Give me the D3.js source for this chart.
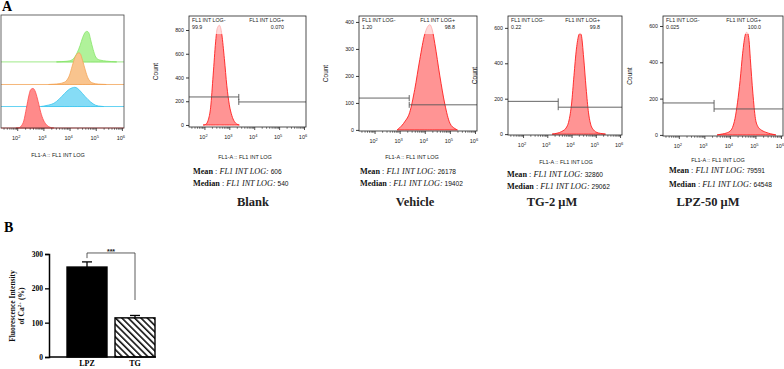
<!DOCTYPE html>
<html>
<head>
<meta charset="utf-8">
<script src="https://cdn.jsdelivr.net/npm/d3@7"></script>
<style>
  body { margin: 0; background: #fff; }
  svg { display: block; font-family: Arial, "Liberation Sans", sans-serif; }
</style>
</head>
<body>
<div id="chart"></div>
<script>
// Histogram data: log10(FL1 INT LOG) bins and event counts
const blankExp = [1.95, 2.05, 2.15, 2.25, 2.35, 2.45, 2.5, 2.55, 2.6, 2.65, 2.7, 2.8, 2.9, 3.0, 3.1, 3.2, 3.3, 3.4];
const blankCount = [0, 5, 40, 150, 420, 700, 800, 830, 840, 820, 760, 560, 330, 170, 80, 30, 8, 0];
const vehicleExp = [2.9, 3.0, 3.2, 3.4, 3.6, 3.8, 4.0, 4.1, 4.2, 4.3, 4.4, 4.6, 4.8, 5.0, 5.2, 5.3];
const vehicleCount = [0, 8, 30, 65, 150, 260, 355, 380, 390, 370, 320, 200, 95, 25, 5, 0];
const tgExp = [3.2, 3.4, 3.6, 3.8, 3.9, 4.0, 4.1, 4.2, 4.3, 4.35, 4.4, 4.5, 4.6, 4.7, 4.8, 4.9, 5.0, 5.2, 5.4];
const tgCount = [0, 5, 15, 40, 80, 170, 330, 480, 560, 570, 560, 430, 260, 120, 50, 25, 12, 4, 0];
const lpzExp = [3.5, 3.7, 3.9, 4.0, 4.1, 4.2, 4.3, 4.4, 4.5, 4.6, 4.65, 4.7, 4.75, 4.8, 4.9, 5.0, 5.1, 5.2, 5.4, 5.6, 5.8];
const lpzCount = [0, 5, 12, 20, 40, 90, 180, 300, 450, 550, 565, 560, 520, 420, 230, 90, 45, 30, 15, 6, 0];

// Per-panel values
const panelNames = ["Blank", "Vehicle", "TG-2 μM", "LPZ-50 μM"];
const negPct = ["99.9", "1.20", "0.22", "0.025"];
const posPct = ["0.070", "98.8", "99.8", "100.0"];
const meanVals = [606, 26178, 32860, 79591];
const medianVals = [540, 19402, 29062, 64548];
const countTicks = [[0, 200, 400, 600, 800], [0, 100, 200, 300, 400], [0, 200, 400, 600], [0, 200, 400, 600]];
const countMin = [-17, -4, -5, -6];
const countMax = [918, 422, 667, 655];
const gateLeftCount = [236, 118, 185, 176];
const gateRightCount = [194, 93, 152, 143];
const gateSplitExp = [3.38, 3.38, 3.45, 3.38];
const decadeExps = [2, 3, 4, 5, 6];
const logDomainExp = [1.38, 6.08];

// Overlay lanes (order: blank, vehicle, TG, LPZ), in % of box height
const overlayOffset = [0, 19, 38.5, 58.5];
const overlayPeak = [35, 17, 28, 27];

// Panel B bar chart
const barGroups = ["LPZ", "TG"];
const barMeans = [262, 114];
const barSem = [15, 7];
const barTicks = [0, 100, 200, 300];

const histExp = [blankExp, vehicleExp, tgExp, lpzExp];
const histCount = [blankCount, vehicleCount, tgCount, lpzCount];

const W = 784, H = 369;
const serif = "'Liberation Serif', 'Times New Roman', serif";
const sans = "Arial, 'Liberation Sans', sans-serif";

const svg = d3.select("#chart").append("svg").attr("width", W).attr("height", H);

// Pattern for hatched TG bar
const defs = svg.append("defs");
defs.append("pattern")
  .attr("id", "hatch")
  .attr("patternUnits", "userSpaceOnUse")
  .attr("width", 4.5).attr("height", 4.5)
  .attr("patternTransform", "rotate(-45)")
  .append("rect")
  .attr("x", 0).attr("y", 0).attr("width", 1.6).attr("height", 4.5)
  .attr("fill", "#111");

// Panel letters
svg.append("text").attr("x", 2).attr("y", 11).attr("font-family", serif)
  .attr("font-weight", "bold").attr("font-size", 14).text("A");
svg.append("text").attr("x", 4).attr("y", 232).attr("font-family", serif)
  .attr("font-weight", "bold").attr("font-size", 14).text("B");

// helper: log x axis with superscript labels and minor ticks
function drawLogAxis(g, x, y1) {
  const major = decadeExps.map((e) => Math.pow(10, e));
  const minor = x.ticks().filter((t) => !major.some((m) => Math.abs(m - t) / m < 1e-6));
  g.append("g")
    .attr("transform", `translate(0,${y1})`)
    .call(d3.axisBottom(x).tickValues(minor).tickSize(1.8).tickFormat(""))
    .call((a) => a.select(".domain").remove())
    .selectAll("line").attr("stroke", "#222").attr("stroke-width", 0.6);
  const ax = g.append("g")
    .attr("transform", `translate(0,${y1})`)
    .call(d3.axisBottom(x).tickValues(major).tickSize(3).tickFormat(""));
  ax.select(".domain").remove();
  ax.selectAll("line").attr("stroke", "#222").attr("stroke-width", 0.8);
  const lbl = g.selectAll(".xlab")
    .data(decadeExps)
    .enter()
    .append("text")
    .attr("class", "xlab")
    .attr("x", (e) => x(Math.pow(10, e)) - 1)
    .attr("y", y1 + 12)
    .attr("text-anchor", "middle")
    .attr("font-size", 5.5)
    .attr("fill", "#222");
  lbl.append("tspan").text("10");
  lbl.append("tspan").attr("dy", -2.5).attr("font-size", 4).text((e) => e);
}

// ---------- Overlay histogram ----------
const ov = { x0: 1, x1: 124, y0: 15, y1: 128 };
const ovColors = [
  { fill: "#ff8a8a", stroke: "#ff4a4a" },
  { fill: "#86dcf6", stroke: "#3cc6ef" },
  { fill: "#f9c48e", stroke: "#f2a458" },
  { fill: "#b0f29a", stroke: "#86e46a" }
];
const ovX = d3.scaleLog()
  .domain(logDomainExp.map((e) => Math.pow(10, e)))
  .range([ov.x0, ov.x1]);
const ovY = d3.scaleLinear().domain([0, 100]).range([ov.y1, ov.y0]);
const ovG = svg.append("g");

// draw lanes from top to bottom so lower ones overlap correctly
[3, 2, 1, 0].forEach((i) => {
  const mx = d3.max(histCount[i]);
  const pts = histExp[i].map((e, j) => ({ e, c: histCount[i][j] }));
  const base = overlayOffset[i];
  ovG.append("line")
    .attr("x1", ov.x0).attr("x2", ov.x1)
    .attr("y1", ovY(base)).attr("y2", ovY(base))
    .attr("stroke", ovColors[i].stroke).attr("stroke-width", 0.8);
  const area = d3.area()
    .x((d) => ovX(Math.pow(10, d.e)))
    .y0(ovY(base))
    .y1((d) => ovY(base + (d.c / mx) * overlayPeak[i]))
    .curve(d3.curveMonotoneX);
  ovG.append("path")
    .datum(pts)
    .attr("d", area)
    .attr("fill", ovColors[i].fill)
    .attr("stroke", ovColors[i].stroke)
    .attr("stroke-width", 0.8);
});
ovG.append("rect")
  .attr("x", ov.x0).attr("y", ov.y0)
  .attr("width", ov.x1 - ov.x0).attr("height", ov.y1 - ov.y0)
  .attr("fill", "none").attr("stroke", "#444").attr("stroke-width", 0.8);
drawLogAxis(ovG, ovX, ov.y1);
ovG.append("text")
  .attr("x", 58).attr("y", 157)
  .attr("text-anchor", "middle").attr("font-size", 5.5).attr("fill", "#222")
  .text("FL1-A :: FL1 INT LOG");

// ---------- Single histograms ----------
const layout = [
  { x0: 189, x1: 306, y0: 16, y1: 127, axisCx: 245, axisY: 159, meanX: 193, meanY: 174, medY: 186, titleCx: 253, titleY: 206 },
  { x0: 359, x1: 477, y0: 16, y1: 131, axisCx: 412, axisY: 159, meanX: 360, meanY: 174, medY: 186, titleCx: 415, titleY: 206 },
  { x0: 508, x1: 622, y0: 16, y1: 135, axisCx: 566, axisY: 164, meanX: 507, meanY: 177, medY: 189, titleCx: 552, titleY: 206 },
  { x0: 663, x1: 783, y0: 16, y1: 136, axisCx: 718, axisY: 162, meanX: 669, meanY: 172.5, medY: 187, titleCx: 708, titleY: 206 }
];

panelNames.forEach((name, i) => {
  const L = layout[i];
  const g = svg.append("g");
  const x = d3.scaleLog()
    .domain(logDomainExp.map((e) => Math.pow(10, e)))
    .range([L.x0, L.x1]);
  const y = d3.scaleLinear().domain([countMin[i], countMax[i]]).range([L.y1, L.y0]);

  const pts = histExp[i].map((e, j) => ({ e, c: histCount[i][j] }));
  const area = d3.area()
    .x((d) => x(Math.pow(10, d.e)))
    .y0(y(0))
    .y1((d) => y(d.c))
    .curve(d3.curveMonotoneX);
  g.append("path")
    .datum(pts)
    .attr("d", area)
    .attr("fill", "#ff9494")
    .attr("stroke", "#ff1e1e")
    .attr("stroke-width", 0.9);

  // pale band behind gate labels
  g.append("rect")
    .attr("x", L.x0).attr("y", L.y0)
    .attr("width", L.x1 - L.x0).attr("height", 18)
    .attr("fill", "#fff").attr("opacity", 0.65);

  // gates
  const xs = x(Math.pow(10, gateSplitExp[i]));
  const gl = y(gateLeftCount[i]);
  const gr = y(gateRightCount[i]);
  const gateStroke = "#555";
  g.append("line").attr("x1", L.x0).attr("x2", xs).attr("y1", gl).attr("y2", gl)
    .attr("stroke", gateStroke).attr("stroke-width", 0.9);
  g.append("line").attr("x1", xs).attr("x2", xs).attr("y1", gl - 3).attr("y2", gl + 3)
    .attr("stroke", gateStroke).attr("stroke-width", 0.9);
  g.append("line").attr("x1", xs).attr("x2", L.x1).attr("y1", gr).attr("y2", gr)
    .attr("stroke", gateStroke).attr("stroke-width", 0.9);
  g.append("line").attr("x1", xs).attr("x2", xs).attr("y1", gr - 3).attr("y2", gr + 3)
    .attr("stroke", gateStroke).attr("stroke-width", 0.9);

  // box
  g.append("rect")
    .attr("x", L.x0).attr("y", L.y0)
    .attr("width", L.x1 - L.x0).attr("height", L.y1 - L.y0)
    .attr("fill", "none").attr("stroke", "#222").attr("stroke-width", 0.8);

  // gate labels
  g.append("text").attr("x", L.x0 + 3).attr("y", L.y0 + 6)
    .attr("font-size", 5.3).attr("fill", "#222").text("FL1 INT LOG-");
  g.append("text").attr("x", L.x0 + 3).attr("y", L.y0 + 13)
    .attr("font-size", 5.3).attr("fill", "#222").text(negPct[i]);
  g.append("text").attr("x", L.x1 - 22).attr("y", L.y0 + 6).attr("text-anchor", "end")
    .attr("font-size", 5.3).attr("fill", "#222").text("FL1 INT LOG+");
  g.append("text").attr("x", L.x1 - 22).attr("y", L.y0 + 13).attr("text-anchor", "end")
    .attr("font-size", 5.3).attr("fill", "#222").text(posPct[i]);

  // y axis
  const ya = g.append("g")
    .attr("transform", `translate(${L.x0},0)`)
    .call(d3.axisLeft(y).tickValues(countTicks[i]).tickSize(3).tickPadding(2));
  ya.select(".domain").remove();
  ya.selectAll("line").attr("stroke", "#222").attr("stroke-width", 0.9);
  ya.selectAll("text").attr("font-size", 5.3).attr("fill", "#222")
    .attr("font-family", sans);

  g.append("text")
    .attr("transform", `translate(${L.x0 - 31},${(L.y0 + L.y1) / 2}) rotate(-90)`)
    .attr("text-anchor", "middle").attr("font-size", 6.5).attr("fill", "#222")
    .text("Count");

  drawLogAxis(g, x, L.y1);

  g.append("text")
    .attr("x", L.axisCx).attr("y", L.axisY)
    .attr("text-anchor", "middle").attr("font-size", 5.5).attr("fill", "#222")
    .text("FL1-A :: FL1 INT LOG");

  [["Mean", meanVals[i], L.meanY], ["Median", medianVals[i], L.medY]].forEach(([lab, v, yy]) => {
    const t = g.append("text").attr("x", L.meanX).attr("y", yy)
      .attr("font-family", serif).attr("font-size", 8.2).attr("fill", "#111");
    t.append("tspan").attr("font-weight", "bold").text(lab);
    t.append("tspan").text(" : ");
    t.append("tspan").attr("font-style", "italic").text("FL1 INT LOG:");
    t.append("tspan").attr("font-family", sans)
      .attr("font-size", 6.6).text(" " + v);
  });

  g.append("text")
    .attr("x", L.titleCx).attr("y", L.titleY)
    .attr("text-anchor", "middle")
    .attr("font-family", serif).attr("font-weight", "bold").attr("font-size", 12.5)
    .attr("fill", "#222")
    .text(name);
});

// ---------- Panel B: bar chart ----------
const bx = d3.scaleBand().domain(barGroups).range([49, 158])
  .paddingInner(0.167).paddingOuter(0.219).align(0.857);
const by = d3.scaleLinear().domain([0, 300]).range([357, 254]);
const bg = svg.append("g");

bg.selectAll(".bar")
  .data(barGroups)
  .enter()
  .append("rect")
  .attr("class", "bar")
  .attr("x", (d) => bx(d))
  .attr("y", (d, i) => by(barMeans[i]))
  .attr("width", bx.bandwidth())
  .attr("height", (d, i) => by(0) - by(barMeans[i]))
  .attr("fill", (d, i) => (i === 0 ? "#000" : "url(#hatch)"))
  .attr("stroke", "#000")
  .attr("stroke-width", 1.4);

// error bars (upper only)
barGroups.forEach((d, i) => {
  const cx = bx(d) + bx.bandwidth() / 2;
  bg.append("line").attr("x1", cx).attr("x2", cx)
    .attr("y1", by(barMeans[i])).attr("y2", by(barMeans[i] + barSem[i]))
    .attr("stroke", "#000").attr("stroke-width", 1.3);
  bg.append("line").attr("x1", cx - 5).attr("x2", cx + 5)
    .attr("y1", by(barMeans[i] + barSem[i])).attr("y2", by(barMeans[i] + barSem[i]))
    .attr("stroke", "#000").attr("stroke-width", 1.3);
});

// significance bracket
const c0 = bx("LPZ") + bx.bandwidth() / 2;
const c1 = bx("TG") + bx.bandwidth() / 2;
bg.append("path")
  .attr("d", `M${c0},${by(288)}V${by(303)}H${c1}V${by(166)}`)
  .attr("fill", "none").attr("stroke", "#333").attr("stroke-width", 0.8);
bg.append("text")
  .attr("x", (c0 + c1) / 2).attr("y", by(300))
  .attr("text-anchor", "middle").attr("font-size", 7).attr("font-weight", "bold")
  .attr("fill", "#222").text("***");

// axes
const yAx = bg.append("g").attr("transform", "translate(49,0)")
  .call(d3.axisLeft(by).tickValues(barTicks).tickSize(4).tickPadding(2));
yAx.select(".domain").attr("stroke-width", 1.5).attr("stroke", "#000");
yAx.selectAll("line").attr("stroke-width", 1.3).attr("stroke", "#000");
yAx.selectAll("text").attr("font-family", serif).attr("font-weight", "bold")
  .attr("font-size", 7.5).attr("fill", "#000");

const xAx = bg.append("g").attr("transform", "translate(0,357)")
  .call(d3.axisBottom(bx).tickSize(0).tickPadding(3));
xAx.select(".domain").attr("stroke-width", 1.5).attr("stroke", "#000")
  .attr("d", "M49,0H156");
xAx.selectAll("text").attr("font-family", serif).attr("font-weight", "bold")
  .attr("font-size", 8).attr("fill", "#000");

const yl = bg.append("text")
  .attr("transform", "translate(15,306) rotate(-90)")
  .attr("text-anchor", "middle")
  .attr("font-family", serif).attr("font-weight", "bold").attr("font-size", 7.5)
  .attr("fill", "#111");
yl.append("tspan").attr("x", 0).attr("dy", 0).text("Fluorescence Intensity");
const l2 = yl.append("tspan").attr("x", 0).attr("dy", 9);
l2.append("tspan").text("of Ca");
l2.append("tspan").attr("dy", -3).attr("font-size", 5).text("2+");
l2.append("tspan").attr("dy", 3).text(" (%)");
</script>
</body>
</html>
